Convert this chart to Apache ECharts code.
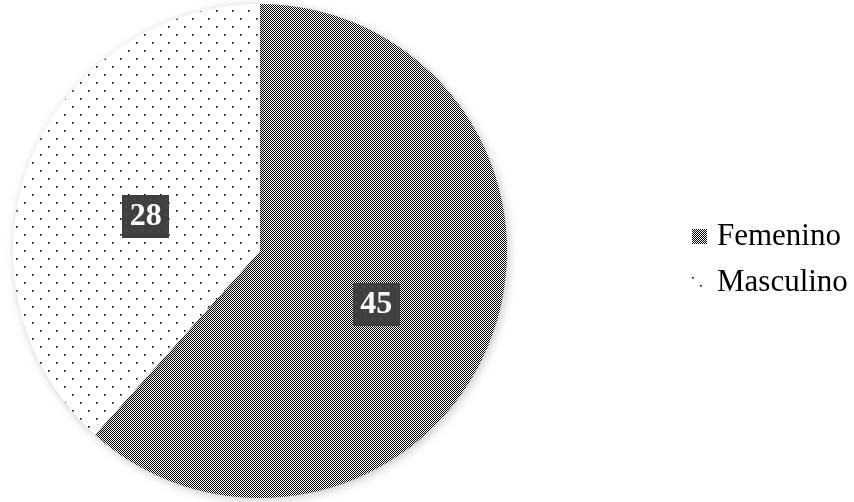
<!DOCTYPE html>
<html><head><meta charset="utf-8">
<script src="https://cdn.jsdelivr.net/npm/echarts@6/dist/echarts.min.js"></script>
<style>html,body{margin:0;padding:0;background:#fff}#c{width:854px;height:502px}</style>
</head><body><div id="c"></div>
<script>
const categories = ['Femenino', 'Masculino'];
const values = [45, 28];

function checker() {
  const c = document.createElement('canvas'); c.width = 2; c.height = 2;
  const g = c.getContext('2d');
  g.fillStyle = '#fff'; g.fillRect(0,0,2,2);
  g.fillStyle = '#000'; g.fillRect(0,0,1,1); g.fillRect(1,1,1,1);
  return c;
}
function dots() {
  const c = document.createElement('canvas'); c.width = 16; c.height = 16;
  const g = c.getContext('2d');
  g.fillStyle = '#fff'; g.fillRect(0,0,16,16);
  g.fillStyle = '#777'; g.fillRect(0,2,2,2); g.fillRect(8,10,2,2);
  g.fillStyle = '#000'; g.fillRect(0,2,1,1); g.fillRect(8,10,1,1);
  return c;
}
function labelBox() {
  const c = document.createElement('canvas'); c.width = 47; c.height = 43;
  const g = c.getContext('2d');
  g.fillStyle = '#404040'; g.fillRect(0,0,47,43);
  g.fillStyle = '#4e4e4e';
  for (let y = 3; y < 43; y += 8) for (let x = 3; x < 47; x += 8) g.fillRect(x, y, 2, 2);
  return c;
}
const fills = [{image: checker(), repeat: 'repeat'}, {image: dots(), repeat: 'repeat'}];

const chart = echarts.init(document.getElementById('c'), null, {renderer: 'canvas', devicePixelRatio: 1});
chart.setOption({
  animation: false,
  backgroundColor: '#fff',
  legend: {
    orient: 'vertical', left: 687, top: 216, itemGap: 15,
    itemWidth: 15, itemHeight: 15, icon: 'rect',
    textStyle: {fontFamily: 'Liberation Serif', fontSize: 31, color: '#000', padding: [0, 0, 0, 5]},
    data: categories
  },
  series: [{
    type: 'pie', center: [260, 251], radius: [0, 247], startAngle: 90, clockwise: true,
    itemStyle: {borderWidth: 0, shadowBlur: 10, shadowColor: 'rgba(0,0,0,0.22)', shadowOffsetX: 2, shadowOffsetY: 2},
    label: {
      show: true, position: 'inside', formatter: '{c}',
      fontFamily: 'Liberation Serif', fontWeight: 'bold', fontSize: 32, color: '#fff',
      width: 47, height: 43, lineHeight: 43, align: 'center', verticalAlign: 'middle',
      backgroundColor: {image: labelBox()}, padding: 0,
      shadowBlur: 6, shadowColor: 'rgba(0,0,0,0.35)', shadowOffsetX: 3, shadowOffsetY: 3
    },
    labelLayout: function (p) { return p.dataIndex === 0 ? {dx: -2, dy: 8} : {dx: 4, dy: 11}; },
    labelLine: {show: false},
    emphasis: {disabled: true},
    data: categories.map((n, i) => ({name: n, value: values[i], itemStyle: {color: fills[i]}}))
  }]
});
</script></body></html>
